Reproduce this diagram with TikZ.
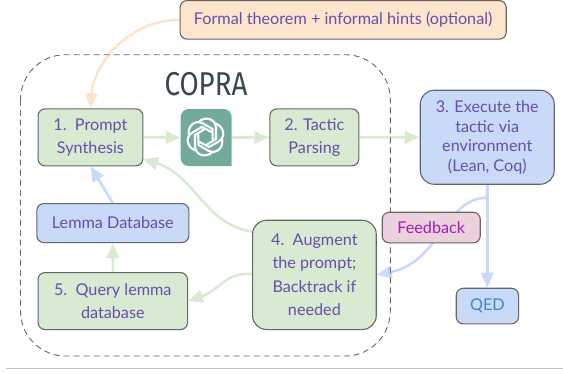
\documentclass[tikz,border=0pt]{standalone}
\usepackage{fontspec}
\usepackage{graphicx}
\setmainfont{Lato}
\newfontfamily\titlefont{Fira Sans}
\usetikzlibrary{arrows.meta,backgrounds}
\definecolor{txt}{HTML}{674EA7}
\definecolor{edge}{HTML}{666666}
\definecolor{gfill}{HTML}{D9EAD3}
\definecolor{bfill}{HTML}{C9DAF8}
\definecolor{ofill}{HTML}{FCE5CD}
\definecolor{pfill}{HTML}{EAD1DC}
\definecolor{logo}{HTML}{74AA9C}
\tikzset{
  x=1pt,y=-1pt,
  box/.style={draw=edge,line width=1.1pt,rounded corners=7pt,align=center,text=txt,font=\fontsize{16.2}{23.5}\selectfont,inner sep=0pt,anchor=north west},
  link/.style={line width=2.6pt,-{Triangle[length=15pt,width=12.5pt]}},
  glink/.style={link,draw=gfill},
  blink/.style={link,draw=bfill},
  olink/.style={link,draw=ofill},
}
\newcommand{\placebox}[7]{% name, fill, x1,y1,x2,y2, text
  \node[box,fill=#2,minimum width=#5pt-#3pt,minimum height=#6pt-#4pt] (#1) at (#3,#4) {#7};}
\begin{document}
\begin{tikzpicture}
\useasboundingbox (0,0) rectangle (563,373);
\draw[gray!50,line width=.8pt] (6,368.3) -- (563,368.3);
\draw[edge,dashed,line width=.9pt,dash pattern=on 6pt off 4pt,rounded corners=45pt] (20.5,54.7) rectangle (390.3,356);
\placebox{formal}{ofill}{179.5}{0}{505.7}{38.6}{Formal theorem + informal hints (optional)}
\placebox{prompt}{gfill}{37.5}{108.3}{142.3}{165.3}{1.\ \ Prompt\\Synthesis}
\placebox{parse}{gfill}{269.3}{108.3}{358.3}{165.3}{2. Tactic\\Parsing}
\node[box,fill=bfill,rounded corners=14pt,minimum width=134pt,minimum height=94pt,font=\fontsize{16.2}{19.6}\selectfont] (exec) at (419.7,89.7) {3. Execute the\\tactic via\\environment\\(Lean, Coq)};
\placebox{lemma}{bfill}{36.3}{203}{188.3}{242}{Lemma Database}
\placebox{query}{gfill}{37.5}{272}{187}{329}{5.\ \ Query lemma\\database}
\node[box,fill=gfill,rounded corners=14pt,minimum width=123.7pt,minimum height=109.3pt] (aug) at (252,219.7) {4.\ \ Augment\\the prompt;\\Backtrack if\\needed};
\node[box,fill=pfill,text={rgb,255:red,166;green,28;blue,181},minimum width=98pt,minimum height=30.6pt] (fb) at (381.7,211.7) {Feedback};
\node[box,fill=bfill,text={rgb,255:red,61;green,133;blue,198},minimum width=62.3pt,minimum height=35.6pt] (qed) at (455.7,287.7) {QED};
\node[text={rgb,255:red,55;green,71;blue,79},font=\titlefont\fontsize{33}{33}\selectfont,inner sep=0pt] (title) at (206,84) {\scalebox{.84}[1]{COPRA}};
% logo
\node[minimum width=50.6pt,minimum height=56.7pt,inner sep=0pt,anchor=north west] (gpt) at (180.7,109) {};
\fill[logo] (gpt.south east) [rounded corners=8pt] -- (gpt.north east) -- (gpt.north west) -- (gpt.south west) [sharp corners] -- cycle;
\begin{scope}[shift={(205.5,137)}]
\foreach \a in {0,60,...,300}{
  \draw[white,line width=2.1pt,line cap=round,rotate=\a] (-6.5,-15.5) .. controls (0,-21) and (10,-18.5) .. (10.5,-9) -- (10.5,2) -- (1.5,7.5);
}
\end{scope}
\begin{scope}[on background layer]
\draw[olink] (formal.west) .. controls (130,20) and (94,62) .. (prompt.north);
\draw[glink] (prompt.east) -- (gpt.west);
\draw[glink] (gpt.east) -- (parse.west);
\draw[glink] (parse.east) -- (exec.west);
\draw[blink] (exec.south) -- (qed.north-|exec.south);
\draw[blink] (exec.south) -- (486.7,197.7) .. controls (445,198) and (440,262) .. (aug.east);
\draw[glink] (aug.west|-0,231.5) .. controls (205,225) and (195,175) .. (143,159);
\draw[glink] (aug.west|-0,274) .. controls (225,272) and (220,290) .. (query.east);
\draw[glink] (query.north) -- (lemma.south);
\draw[blink] (lemma.north) -- (prompt.south);
\end{scope}
\end{tikzpicture}
\end{document}
